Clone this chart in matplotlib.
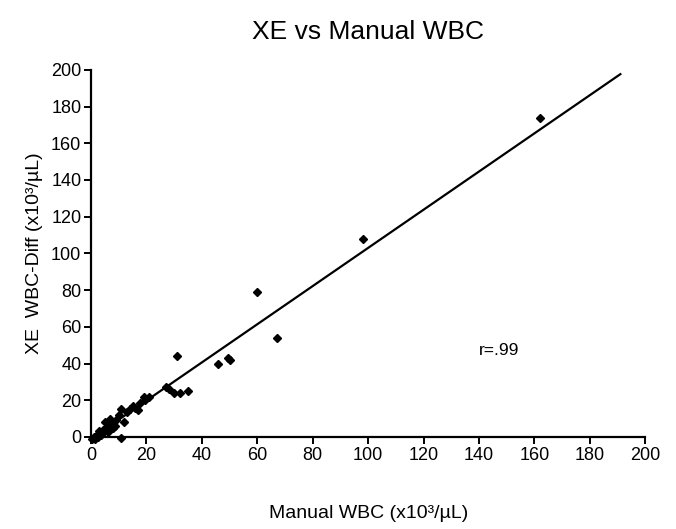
import matplotlib
matplotlib.use("Agg")
import matplotlib.pyplot as plt
import numpy as np

plt.rcParams['font.family'] = ['Liberation Sans', 'DejaVu Sans']

# Paired counts: manual WBC vs XE WBC-Diff (x10^3/uL)
manual_wbc = [162, 98, 60, 67, 31, 46, 49.5, 50, 32, 35, 28, 27, 30,
              21, 19, 19.5, 17.7, 16, 17, 13, 12, 11, 10, 7.6, 5.8, 5, 6,
              4, 2.5, 11, 1.5, 8, 9, 3, 3.5, 7, 14, 15, 4.5, 6.5, 2, 1, 0.5, 8.5]
xe_wbc_diff = [174, 108, 79, 54, 44, 40, 43, 42, 24, 25, 26, 27, 24,
               22, 22, 20, 18.5, 16, 14.7, 13.6, 8, 15, 12, 7.6, 5.5, 8, 2.7,
               2, 0, -0.5, -1, 5, 9, 3, 1, 10, 15, 17, 4, 6, 1, 0, -1, 6]

# Fit line as printed on the figure
fit_slope = 1.04
fit_intercept = -1.0
fit_x = [0, 191]
r_text = "r=.99"

x_ticks = list(range(0, 201, 20))
y_ticks = list(range(0, 201, 20))

fig = plt.figure(figsize=(6.76, 5.29), dpi=100)
ax = fig.add_axes([0.1346, 0.174, 0.82, 0.694])

ax.plot(manual_wbc, xe_wbc_diff, linestyle='none', marker='D', ms=4.2,
        color='black', clip_on=False, zorder=3)
fx = np.array(fit_x, dtype=float)
ax.plot(fx, fit_slope * fx + fit_intercept, color='black', lw=1.6,
        clip_on=False, zorder=2)

ax.set_xlim(0, 200)
ax.set_ylim(0, 200)
ax.set_xticks(x_ticks)
ax.set_yticks(y_ticks)
for s in ('top', 'right'):
    ax.spines[s].set_visible(False)
for s in ('left', 'bottom'):
    ax.spines[s].set_linewidth(1.6)
ax.tick_params(direction='out', length=5, width=1.4, labelsize=13, pad=2)

ax.text(140, 47, r_text, fontsize=12.5, ha='left', va='center')

ax.set_title("XE vs Manual WBC", fontsize=19, pad=22)
ax.set_xlabel("Manual WBC (x10³/µL)", fontsize=14, labelpad=30)
ax.set_ylabel("XE  WBC-Diff (x10³/µL)", fontsize=14, labelpad=6)

fig.savefig("out.png", dpi=100, facecolor='white')
